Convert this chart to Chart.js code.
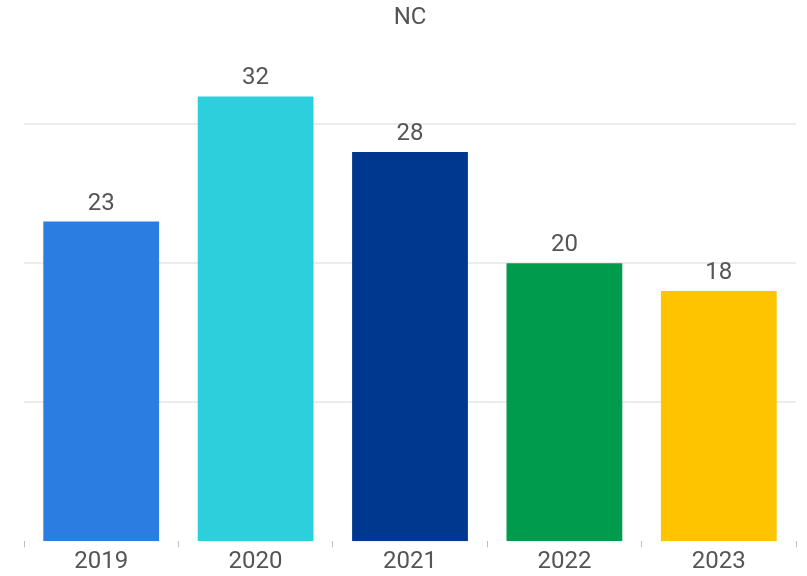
<!DOCTYPE html>
<html>
<head>
<meta charset="utf-8">
<script src="https://cdn.jsdelivr.net/npm/chart.js@4"></script>
<style>
  html, body { margin: 0; padding: 0; background: #fff; }
  #wrap { width: 807px; height: 576px; }
</style>
</head>
<body>
<div id="wrap"><canvas id="chart" width="807" height="576"></canvas></div>
<script>
const chartTitle = 'NC';
const years = ['2019', '2020', '2021', '2022', '2023'];
const counts = [23, 32, 28, 20, 18];
const barColors = ['#2b7de1', '#2ecfdc', '#00378f', '#009b4c', '#ffc400'];
const gridValues = [10, 20, 30];

const textColor = '#555555';
const fontFamily = 'Roboto, "Noto Sans", sans-serif';

// Writes each bar's value just above it
const valueLabels = {
  id: 'valueLabels',
  afterDatasetsDraw(chart) {
    const ctx = chart.ctx;
    const meta = chart.getDatasetMeta(0);
    ctx.save();
    ctx.font = '24px ' + fontFamily;
    ctx.fillStyle = textColor;
    ctx.textAlign = 'center';
    ctx.textBaseline = 'alphabetic';
    meta.data.forEach((bar, i) => {
      ctx.fillText(String(chart.data.datasets[0].data[i]), bar.x, bar.y - 12);
    });
    ctx.restore();
  }
};

new Chart(document.getElementById('chart'), {
  type: 'bar',
  data: {
    labels: years,
    datasets: [{
      data: counts,
      backgroundColor: barColors,
      borderWidth: 0,
      barPercentage: 0.75,
      categoryPercentage: 1
    }]
  },
  options: {
    responsive: false,
    animation: false,
    devicePixelRatio: 1,
    layout: { padding: { left: 24, right: 11, top: 0, bottom: 0 } },
    plugins: {
      legend: { display: false },
      tooltip: { enabled: false },
      title: {
        display: true,
        text: chartTitle,
        color: textColor,
        font: { family: fontFamily, size: 24, weight: 'normal', lineHeight: 1.2 },
        padding: { top: 4, bottom: 22 }
      }
    },
    scales: {
      x: {
        border: { display: false },
        grid: {
          offset: true,
          drawOnChartArea: false,
          drawTicks: true,
          tickLength: 6,
          color: '#bdbdbd',
          lineWidth: 1
        },
        ticks: {
          color: textColor,
          padding: 0,
          font: { family: fontFamily, size: 24 }
        }
      },
      y: {
        min: 0,
        max: 35,
        border: { display: false },
        afterBuildTicks(axis) {
          axis.ticks = gridValues.map(v => ({ value: v }));
        },
        ticks: { display: false },
        grid: {
          drawTicks: false,
          color: '#ececec',
          lineWidth: 2
        }
      }
    }
  },
  plugins: [valueLabels]
});
</script>
</body>
</html>
